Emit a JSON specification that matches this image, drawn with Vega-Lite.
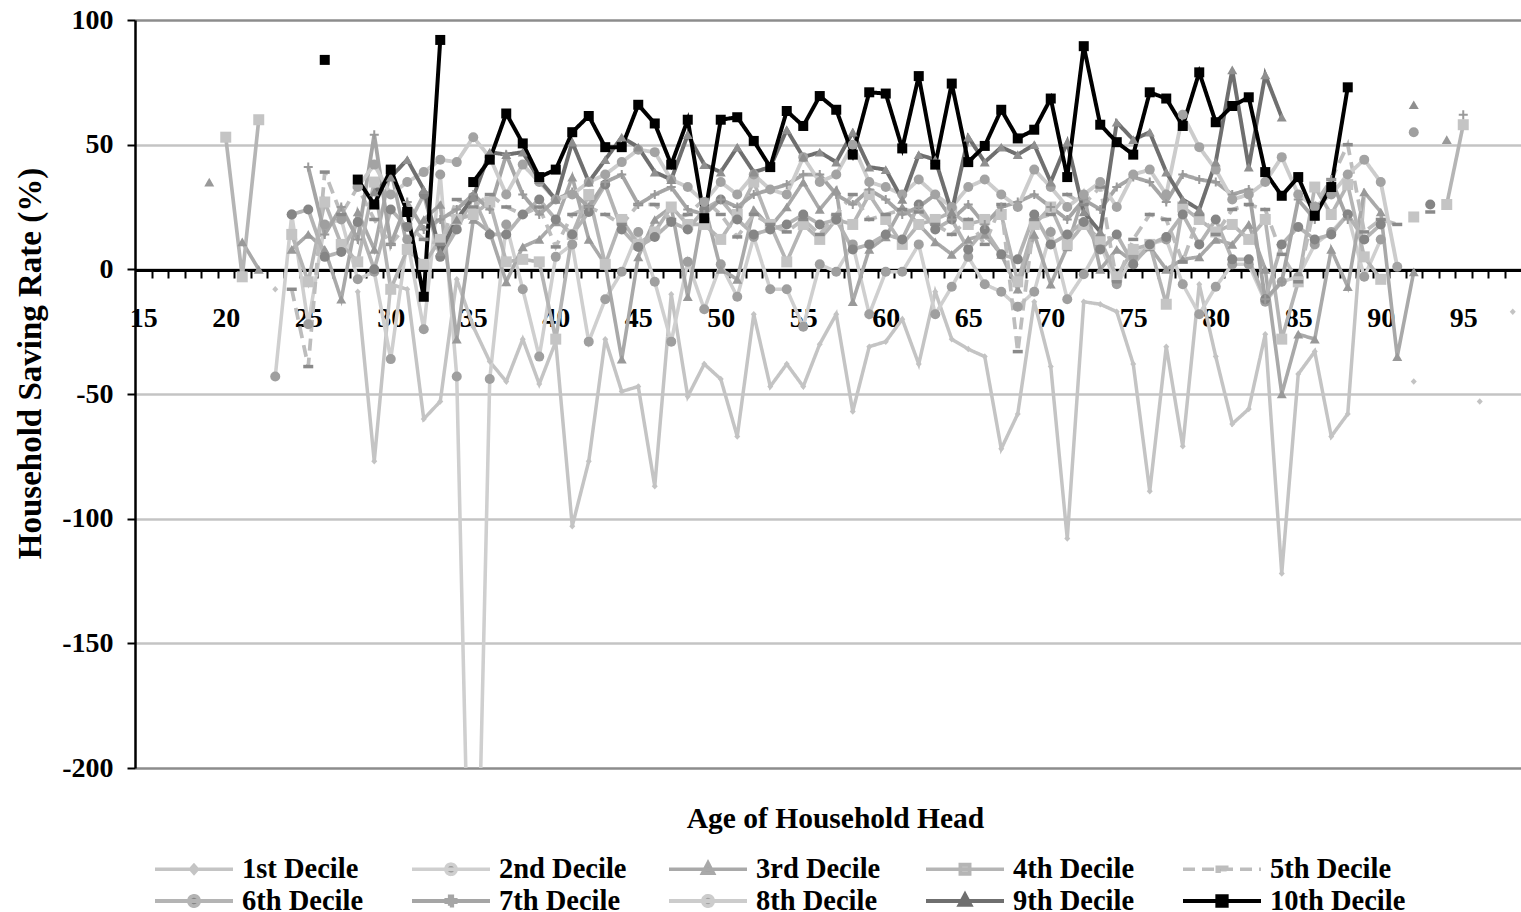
{
"$schema": "https://vega.github.io/schema/vega-lite/v6.json",
"width": 1386, "height": 748,
"autosize": {"type": "none"},
"padding": {"left": 135, "top": 20, "right": 0, "bottom": 144},
"background": "white",
"config": {"view": {"stroke": null}, "font": "Liberation Serif"},
"data": {"values": [
{"a":23,"d":"1st Decile","r":-8},{"a":24,"d":"1st Decile","r":null},{"a":28,"d":"1st Decile","r":-9},{"a":29,"d":"1st Decile","r":-77},{"a":30,"d":"1st Decile","r":-6},{"a":31,"d":"1st Decile","r":-8},{"a":32,"d":"1st Decile","r":-60},{"a":33,"d":"1st Decile","r":-53},{"a":34,"d":"1st Decile","r":-4},{"a":35,"d":"1st Decile","r":-23},{"a":36,"d":"1st Decile","r":-37},{"a":37,"d":"1st Decile","r":-45},{"a":38,"d":"1st Decile","r":-28},{"a":39,"d":"1st Decile","r":-46},{"a":40,"d":"1st Decile","r":-29},{"a":41,"d":"1st Decile","r":-103},{"a":42,"d":"1st Decile","r":-77},{"a":43,"d":"1st Decile","r":-28},{"a":44,"d":"1st Decile","r":-49},{"a":45,"d":"1st Decile","r":-47},{"a":46,"d":"1st Decile","r":-87},{"a":47,"d":"1st Decile","r":-10},{"a":48,"d":"1st Decile","r":-51},{"a":49,"d":"1st Decile","r":-38},{"a":50,"d":"1st Decile","r":-44},{"a":51,"d":"1st Decile","r":-67},{"a":52,"d":"1st Decile","r":-18},{"a":53,"d":"1st Decile","r":-47},{"a":54,"d":"1st Decile","r":-38},{"a":55,"d":"1st Decile","r":-47},{"a":56,"d":"1st Decile","r":-30},{"a":57,"d":"1st Decile","r":-18},{"a":58,"d":"1st Decile","r":-57},{"a":59,"d":"1st Decile","r":-31},{"a":60,"d":"1st Decile","r":-29},{"a":61,"d":"1st Decile","r":-20},{"a":62,"d":"1st Decile","r":-38},{"a":63,"d":"1st Decile","r":-9},{"a":64,"d":"1st Decile","r":-28},{"a":65,"d":"1st Decile","r":-32},{"a":66,"d":"1st Decile","r":-35},{"a":67,"d":"1st Decile","r":-72},{"a":68,"d":"1st Decile","r":-58},{"a":69,"d":"1st Decile","r":-13},{"a":70,"d":"1st Decile","r":-39},{"a":71,"d":"1st Decile","r":-108},{"a":72,"d":"1st Decile","r":-13},{"a":73,"d":"1st Decile","r":-14},{"a":74,"d":"1st Decile","r":-17},{"a":75,"d":"1st Decile","r":-38},{"a":76,"d":"1st Decile","r":-89},{"a":77,"d":"1st Decile","r":-31},{"a":78,"d":"1st Decile","r":-71},{"a":79,"d":"1st Decile","r":-6},{"a":80,"d":"1st Decile","r":-35},{"a":81,"d":"1st Decile","r":-62},{"a":82,"d":"1st Decile","r":-56},{"a":83,"d":"1st Decile","r":-26},{"a":84,"d":"1st Decile","r":-122},{"a":85,"d":"1st Decile","r":-42},{"a":86,"d":"1st Decile","r":-33},{"a":87,"d":"1st Decile","r":-67},{"a":88,"d":"1st Decile","r":-58},{"a":89,"d":"1st Decile","r":30},{"a":90,"d":"1st Decile","r":null},{"a":92,"d":"1st Decile","r":-45},{"a":93,"d":"1st Decile","r":null},{"a":96,"d":"1st Decile","r":-53},{"a":97,"d":"1st Decile","r":null},{"a":98,"d":"1st Decile","r":-17},

{"a":23,"d":"2nd Decile","r":-43},{"a":24,"d":"2nd Decile","r":22},{"a":25,"d":"2nd Decile","r":-22},{"a":26,"d":"2nd Decile","r":18},{"a":27,"d":"2nd Decile","r":20},{"a":28,"d":"2nd Decile","r":-4},{"a":29,"d":"2nd Decile","r":-1},{"a":30,"d":"2nd Decile","r":-36},{"a":31,"d":"2nd Decile","r":12},{"a":32,"d":"2nd Decile","r":-24},{"a":33,"d":"2nd Decile","r":38},{"a":34,"d":"2nd Decile","r":-43},{"a":35,"d":"2nd Decile","r":-330},{"a":36,"d":"2nd Decile","r":-44},{"a":37,"d":"2nd Decile","r":18},{"a":38,"d":"2nd Decile","r":-8},{"a":39,"d":"2nd Decile","r":-35},{"a":40,"d":"2nd Decile","r":5},{"a":41,"d":"2nd Decile","r":10},{"a":42,"d":"2nd Decile","r":-29},{"a":43,"d":"2nd Decile","r":-12},{"a":44,"d":"2nd Decile","r":-1},{"a":45,"d":"2nd Decile","r":15},{"a":46,"d":"2nd Decile","r":-5},{"a":47,"d":"2nd Decile","r":-29},{"a":48,"d":"2nd Decile","r":3},{"a":49,"d":"2nd Decile","r":-16},{"a":50,"d":"2nd Decile","r":2},{"a":51,"d":"2nd Decile","r":-11},{"a":52,"d":"2nd Decile","r":13},{"a":53,"d":"2nd Decile","r":-8},{"a":54,"d":"2nd Decile","r":-8},{"a":55,"d":"2nd Decile","r":-23},{"a":56,"d":"2nd Decile","r":2},{"a":57,"d":"2nd Decile","r":-1},{"a":58,"d":"2nd Decile","r":10},{"a":59,"d":"2nd Decile","r":-18},{"a":60,"d":"2nd Decile","r":-1},{"a":61,"d":"2nd Decile","r":-1},{"a":62,"d":"2nd Decile","r":10},{"a":63,"d":"2nd Decile","r":-18},{"a":64,"d":"2nd Decile","r":-7},{"a":65,"d":"2nd Decile","r":5},{"a":66,"d":"2nd Decile","r":-6},{"a":67,"d":"2nd Decile","r":-9},{"a":68,"d":"2nd Decile","r":-15},{"a":69,"d":"2nd Decile","r":-9},{"a":70,"d":"2nd Decile","r":15},{"a":71,"d":"2nd Decile","r":-12},{"a":72,"d":"2nd Decile","r":-2},{"a":73,"d":"2nd Decile","r":10},{"a":74,"d":"2nd Decile","r":-6},{"a":75,"d":"2nd Decile","r":5},{"a":76,"d":"2nd Decile","r":10},{"a":77,"d":"2nd Decile","r":12},{"a":78,"d":"2nd Decile","r":-6},{"a":79,"d":"2nd Decile","r":-18},{"a":80,"d":"2nd Decile","r":-7},{"a":81,"d":"2nd Decile","r":2},{"a":82,"d":"2nd Decile","r":2},{"a":83,"d":"2nd Decile","r":-13},{"a":84,"d":"2nd Decile","r":-5},{"a":85,"d":"2nd Decile","r":-3},{"a":86,"d":"2nd Decile","r":10},{"a":87,"d":"2nd Decile","r":15},{"a":88,"d":"2nd Decile","r":22},{"a":89,"d":"2nd Decile","r":-3},{"a":90,"d":"2nd Decile","r":12},{"a":91,"d":"2nd Decile","r":null},{"a":92,"d":"2nd Decile","r":55},

{"a":19,"d":"3rd Decile","r":35},{"a":20,"d":"3rd Decile","r":null},{"a":21,"d":"3rd Decile","r":11},{"a":22,"d":"3rd Decile","r":0},{"a":23,"d":"3rd Decile","r":null},{"a":24,"d":"3rd Decile","r":8},{"a":25,"d":"3rd Decile","r":14},{"a":26,"d":"3rd Decile","r":8},{"a":27,"d":"3rd Decile","r":-12},{"a":28,"d":"3rd Decile","r":23},{"a":29,"d":"3rd Decile","r":8},{"a":30,"d":"3rd Decile","r":40},{"a":31,"d":"3rd Decile","r":9},{"a":32,"d":"3rd Decile","r":20},{"a":33,"d":"3rd Decile","r":26},{"a":34,"d":"3rd Decile","r":-28},{"a":35,"d":"3rd Decile","r":20},{"a":36,"d":"3rd Decile","r":15},{"a":37,"d":"3rd Decile","r":-5},{"a":38,"d":"3rd Decile","r":9},{"a":39,"d":"3rd Decile","r":12},{"a":40,"d":"3rd Decile","r":19},{"a":41,"d":"3rd Decile","r":37},{"a":42,"d":"3rd Decile","r":12},{"a":43,"d":"3rd Decile","r":2},{"a":44,"d":"3rd Decile","r":-36},{"a":45,"d":"3rd Decile","r":5},{"a":46,"d":"3rd Decile","r":20},{"a":47,"d":"3rd Decile","r":25},{"a":48,"d":"3rd Decile","r":-11},{"a":49,"d":"3rd Decile","r":26},{"a":50,"d":"3rd Decile","r":0},{"a":51,"d":"3rd Decile","r":-4},{"a":52,"d":"3rd Decile","r":24},{"a":53,"d":"3rd Decile","r":17},{"a":54,"d":"3rd Decile","r":25},{"a":55,"d":"3rd Decile","r":35},{"a":56,"d":"3rd Decile","r":24},{"a":57,"d":"3rd Decile","r":32},{"a":58,"d":"3rd Decile","r":-13},{"a":59,"d":"3rd Decile","r":8},{"a":60,"d":"3rd Decile","r":13},{"a":61,"d":"3rd Decile","r":25},{"a":62,"d":"3rd Decile","r":18},{"a":63,"d":"3rd Decile","r":11},{"a":64,"d":"3rd Decile","r":6},{"a":65,"d":"3rd Decile","r":12},{"a":66,"d":"3rd Decile","r":14},{"a":67,"d":"3rd Decile","r":6},{"a":68,"d":"3rd Decile","r":-8},{"a":69,"d":"3rd Decile","r":14},{"a":70,"d":"3rd Decile","r":-6},{"a":71,"d":"3rd Decile","r":9},{"a":72,"d":"3rd Decile","r":30},{"a":73,"d":"3rd Decile","r":0},{"a":74,"d":"3rd Decile","r":8},{"a":75,"d":"3rd Decile","r":3},{"a":76,"d":"3rd Decile","r":9},{"a":77,"d":"3rd Decile","r":0},{"a":78,"d":"3rd Decile","r":4},{"a":79,"d":"3rd Decile","r":5},{"a":80,"d":"3rd Decile","r":12},{"a":81,"d":"3rd Decile","r":10},{"a":82,"d":"3rd Decile","r":18},{"a":83,"d":"3rd Decile","r":0},{"a":84,"d":"3rd Decile","r":-50},{"a":85,"d":"3rd Decile","r":-26},{"a":86,"d":"3rd Decile","r":-28},{"a":87,"d":"3rd Decile","r":8},{"a":88,"d":"3rd Decile","r":-7},{"a":89,"d":"3rd Decile","r":31},{"a":90,"d":"3rd Decile","r":23},{"a":91,"d":"3rd Decile","r":-35},{"a":92,"d":"3rd Decile","r":-1},{"a":93,"d":"3rd Decile","r":null},{"a":94,"d":"3rd Decile","r":52},

{"a":20,"d":"4th Decile","r":53},{"a":21,"d":"4th Decile","r":-3},{"a":22,"d":"4th Decile","r":60},{"a":23,"d":"4th Decile","r":null},{"a":24,"d":"4th Decile","r":14},{"a":25,"d":"4th Decile","r":-5},{"a":26,"d":"4th Decile","r":27},{"a":27,"d":"4th Decile","r":10},{"a":28,"d":"4th Decile","r":3},{"a":29,"d":"4th Decile","r":35},{"a":30,"d":"4th Decile","r":-8},{"a":31,"d":"4th Decile","r":8},{"a":32,"d":"4th Decile","r":2},{"a":33,"d":"4th Decile","r":12},{"a":34,"d":"4th Decile","r":20},{"a":35,"d":"4th Decile","r":22},{"a":36,"d":"4th Decile","r":27},{"a":37,"d":"4th Decile","r":3},{"a":38,"d":"4th Decile","r":4},{"a":39,"d":"4th Decile","r":3},{"a":40,"d":"4th Decile","r":-28},{"a":41,"d":"4th Decile","r":14},{"a":42,"d":"4th Decile","r":30},{"a":43,"d":"4th Decile","r":2},{"a":44,"d":"4th Decile","r":20},{"a":45,"d":"4th Decile","r":10},{"a":46,"d":"4th Decile","r":15},{"a":47,"d":"4th Decile","r":25},{"a":48,"d":"4th Decile","r":18},{"a":49,"d":"4th Decile","r":18},{"a":50,"d":"4th Decile","r":12},{"a":51,"d":"4th Decile","r":22},{"a":52,"d":"4th Decile","r":35},{"a":53,"d":"4th Decile","r":18},{"a":54,"d":"4th Decile","r":3},{"a":55,"d":"4th Decile","r":18},{"a":56,"d":"4th Decile","r":12},{"a":57,"d":"4th Decile","r":20},{"a":58,"d":"4th Decile","r":18},{"a":59,"d":"4th Decile","r":30},{"a":60,"d":"4th Decile","r":20},{"a":61,"d":"4th Decile","r":10},{"a":62,"d":"4th Decile","r":18},{"a":63,"d":"4th Decile","r":20},{"a":64,"d":"4th Decile","r":23},{"a":65,"d":"4th Decile","r":18},{"a":66,"d":"4th Decile","r":20},{"a":67,"d":"4th Decile","r":22},{"a":68,"d":"4th Decile","r":-5},{"a":69,"d":"4th Decile","r":18},{"a":70,"d":"4th Decile","r":25},{"a":71,"d":"4th Decile","r":10},{"a":72,"d":"4th Decile","r":18},{"a":73,"d":"4th Decile","r":12},{"a":74,"d":"4th Decile","r":-3},{"a":75,"d":"4th Decile","r":8},{"a":76,"d":"4th Decile","r":10},{"a":77,"d":"4th Decile","r":-14},{"a":78,"d":"4th Decile","r":25},{"a":79,"d":"4th Decile","r":20},{"a":80,"d":"4th Decile","r":15},{"a":81,"d":"4th Decile","r":18},{"a":82,"d":"4th Decile","r":12},{"a":83,"d":"4th Decile","r":20},{"a":84,"d":"4th Decile","r":-28},{"a":85,"d":"4th Decile","r":-5},{"a":86,"d":"4th Decile","r":33},{"a":87,"d":"4th Decile","r":22},{"a":88,"d":"4th Decile","r":34},{"a":89,"d":"4th Decile","r":5},{"a":90,"d":"4th Decile","r":-4},{"a":91,"d":"4th Decile","r":null},{"a":92,"d":"4th Decile","r":21},{"a":93,"d":"4th Decile","r":null},{"a":94,"d":"4th Decile","r":26},{"a":95,"d":"4th Decile","r":58},

{"a":24,"d":"5th Decile","r":-8},{"a":25,"d":"5th Decile","r":-39},{"a":26,"d":"5th Decile","r":39},{"a":27,"d":"5th Decile","r":22},{"a":28,"d":"5th Decile","r":33},{"a":29,"d":"5th Decile","r":20},{"a":30,"d":"5th Decile","r":10},{"a":31,"d":"5th Decile","r":18},{"a":32,"d":"5th Decile","r":12},{"a":33,"d":"5th Decile","r":10},{"a":34,"d":"5th Decile","r":28},{"a":35,"d":"5th Decile","r":25},{"a":36,"d":"5th Decile","r":30},{"a":37,"d":"5th Decile","r":25},{"a":38,"d":"5th Decile","r":22},{"a":39,"d":"5th Decile","r":25},{"a":40,"d":"5th Decile","r":9},{"a":41,"d":"5th Decile","r":22},{"a":42,"d":"5th Decile","r":25},{"a":43,"d":"5th Decile","r":22},{"a":44,"d":"5th Decile","r":18},{"a":45,"d":"5th Decile","r":26},{"a":46,"d":"5th Decile","r":26},{"a":47,"d":"5th Decile","r":20},{"a":48,"d":"5th Decile","r":22},{"a":49,"d":"5th Decile","r":28},{"a":50,"d":"5th Decile","r":22},{"a":51,"d":"5th Decile","r":13},{"a":52,"d":"5th Decile","r":22},{"a":53,"d":"5th Decile","r":18},{"a":54,"d":"5th Decile","r":15},{"a":55,"d":"5th Decile","r":20},{"a":56,"d":"5th Decile","r":14},{"a":57,"d":"5th Decile","r":22},{"a":58,"d":"5th Decile","r":30},{"a":59,"d":"5th Decile","r":20},{"a":60,"d":"5th Decile","r":22},{"a":61,"d":"5th Decile","r":24},{"a":62,"d":"5th Decile","r":23},{"a":63,"d":"5th Decile","r":18},{"a":64,"d":"5th Decile","r":14},{"a":65,"d":"5th Decile","r":20},{"a":66,"d":"5th Decile","r":10},{"a":67,"d":"5th Decile","r":26},{"a":68,"d":"5th Decile","r":-33},{"a":69,"d":"5th Decile","r":20},{"a":70,"d":"5th Decile","r":22},{"a":71,"d":"5th Decile","r":30},{"a":72,"d":"5th Decile","r":26},{"a":73,"d":"5th Decile","r":33},{"a":74,"d":"5th Decile","r":-5},{"a":75,"d":"5th Decile","r":12},{"a":76,"d":"5th Decile","r":22},{"a":77,"d":"5th Decile","r":20},{"a":78,"d":"5th Decile","r":3},{"a":79,"d":"5th Decile","r":22},{"a":80,"d":"5th Decile","r":14},{"a":81,"d":"5th Decile","r":24},{"a":82,"d":"5th Decile","r":26},{"a":83,"d":"5th Decile","r":24},{"a":84,"d":"5th Decile","r":6},{"a":85,"d":"5th Decile","r":-5},{"a":86,"d":"5th Decile","r":26},{"a":87,"d":"5th Decile","r":36},{"a":88,"d":"5th Decile","r":50},{"a":89,"d":"5th Decile","r":15},{"a":90,"d":"5th Decile","r":20},{"a":91,"d":"5th Decile","r":18},{"a":92,"d":"5th Decile","r":null},{"a":93,"d":"5th Decile","r":23},

{"a":24,"d":"6th Decile","r":22},{"a":25,"d":"6th Decile","r":24},{"a":26,"d":"6th Decile","r":5},{"a":27,"d":"6th Decile","r":7},{"a":28,"d":"6th Decile","r":19},{"a":29,"d":"6th Decile","r":0},{"a":30,"d":"6th Decile","r":24},{"a":31,"d":"6th Decile","r":17},{"a":32,"d":"6th Decile","r":30},{"a":33,"d":"6th Decile","r":5},{"a":34,"d":"6th Decile","r":16},{"a":35,"d":"6th Decile","r":29},{"a":36,"d":"6th Decile","r":14},{"a":37,"d":"6th Decile","r":14},{"a":38,"d":"6th Decile","r":22},{"a":39,"d":"6th Decile","r":28},{"a":40,"d":"6th Decile","r":20},{"a":41,"d":"6th Decile","r":14},{"a":42,"d":"6th Decile","r":23},{"a":43,"d":"6th Decile","r":34},{"a":44,"d":"6th Decile","r":16},{"a":45,"d":"6th Decile","r":9},{"a":46,"d":"6th Decile","r":13},{"a":47,"d":"6th Decile","r":19},{"a":48,"d":"6th Decile","r":16},{"a":49,"d":"6th Decile","r":24},{"a":50,"d":"6th Decile","r":28},{"a":51,"d":"6th Decile","r":20},{"a":52,"d":"6th Decile","r":14},{"a":53,"d":"6th Decile","r":16},{"a":54,"d":"6th Decile","r":18},{"a":55,"d":"6th Decile","r":22},{"a":56,"d":"6th Decile","r":18},{"a":57,"d":"6th Decile","r":20},{"a":58,"d":"6th Decile","r":8},{"a":59,"d":"6th Decile","r":10},{"a":60,"d":"6th Decile","r":14},{"a":61,"d":"6th Decile","r":12},{"a":62,"d":"6th Decile","r":26},{"a":63,"d":"6th Decile","r":16},{"a":64,"d":"6th Decile","r":20},{"a":65,"d":"6th Decile","r":8},{"a":66,"d":"6th Decile","r":16},{"a":67,"d":"6th Decile","r":6},{"a":68,"d":"6th Decile","r":4},{"a":69,"d":"6th Decile","r":22},{"a":70,"d":"6th Decile","r":10},{"a":71,"d":"6th Decile","r":14},{"a":72,"d":"6th Decile","r":19},{"a":73,"d":"6th Decile","r":8},{"a":74,"d":"6th Decile","r":14},{"a":75,"d":"6th Decile","r":2},{"a":76,"d":"6th Decile","r":10},{"a":77,"d":"6th Decile","r":13},{"a":78,"d":"6th Decile","r":22},{"a":79,"d":"6th Decile","r":10},{"a":80,"d":"6th Decile","r":20},{"a":81,"d":"6th Decile","r":4},{"a":82,"d":"6th Decile","r":4},{"a":83,"d":"6th Decile","r":-12},{"a":84,"d":"6th Decile","r":10},{"a":85,"d":"6th Decile","r":17},{"a":86,"d":"6th Decile","r":12},{"a":87,"d":"6th Decile","r":14},{"a":88,"d":"6th Decile","r":22},{"a":89,"d":"6th Decile","r":12},{"a":90,"d":"6th Decile","r":18},{"a":91,"d":"6th Decile","r":null},{"a":93,"d":"6th Decile","r":26},

{"a":25,"d":"7th Decile","r":41},{"a":26,"d":"7th Decile","r":14},{"a":27,"d":"7th Decile","r":25},{"a":28,"d":"7th Decile","r":12},{"a":29,"d":"7th Decile","r":54},{"a":30,"d":"7th Decile","r":10},{"a":31,"d":"7th Decile","r":27},{"a":32,"d":"7th Decile","r":16},{"a":33,"d":"7th Decile","r":20},{"a":34,"d":"7th Decile","r":24},{"a":35,"d":"7th Decile","r":30},{"a":36,"d":"7th Decile","r":24},{"a":37,"d":"7th Decile","r":46},{"a":38,"d":"7th Decile","r":30},{"a":39,"d":"7th Decile","r":22},{"a":40,"d":"7th Decile","r":28},{"a":41,"d":"7th Decile","r":31},{"a":42,"d":"7th Decile","r":25},{"a":43,"d":"7th Decile","r":35},{"a":44,"d":"7th Decile","r":38},{"a":45,"d":"7th Decile","r":26},{"a":46,"d":"7th Decile","r":30},{"a":47,"d":"7th Decile","r":33},{"a":48,"d":"7th Decile","r":24},{"a":49,"d":"7th Decile","r":22},{"a":50,"d":"7th Decile","r":28},{"a":51,"d":"7th Decile","r":25},{"a":52,"d":"7th Decile","r":30},{"a":53,"d":"7th Decile","r":32},{"a":54,"d":"7th Decile","r":34},{"a":55,"d":"7th Decile","r":38},{"a":56,"d":"7th Decile","r":38},{"a":57,"d":"7th Decile","r":30},{"a":58,"d":"7th Decile","r":26},{"a":59,"d":"7th Decile","r":32},{"a":60,"d":"7th Decile","r":28},{"a":61,"d":"7th Decile","r":22},{"a":62,"d":"7th Decile","r":25},{"a":63,"d":"7th Decile","r":30},{"a":64,"d":"7th Decile","r":20},{"a":65,"d":"7th Decile","r":26},{"a":66,"d":"7th Decile","r":18},{"a":67,"d":"7th Decile","r":25},{"a":68,"d":"7th Decile","r":27},{"a":69,"d":"7th Decile","r":30},{"a":70,"d":"7th Decile","r":25},{"a":71,"d":"7th Decile","r":20},{"a":72,"d":"7th Decile","r":28},{"a":73,"d":"7th Decile","r":24},{"a":74,"d":"7th Decile","r":33},{"a":75,"d":"7th Decile","r":37},{"a":76,"d":"7th Decile","r":35},{"a":77,"d":"7th Decile","r":27},{"a":78,"d":"7th Decile","r":38},{"a":79,"d":"7th Decile","r":36},{"a":80,"d":"7th Decile","r":35},{"a":81,"d":"7th Decile","r":30},{"a":82,"d":"7th Decile","r":32},{"a":83,"d":"7th Decile","r":-12},{"a":84,"d":"7th Decile","r":-5},{"a":85,"d":"7th Decile","r":28},{"a":86,"d":"7th Decile","r":20},{"a":87,"d":"7th Decile","r":36},{"a":88,"d":"7th Decile","r":20},{"a":89,"d":"7th Decile","r":null},{"a":95,"d":"7th Decile","r":62},

{"a":28,"d":"8th Decile","r":33},{"a":29,"d":"8th Decile","r":42},{"a":30,"d":"8th Decile","r":30},{"a":31,"d":"8th Decile","r":35},{"a":32,"d":"8th Decile","r":39},{"a":33,"d":"8th Decile","r":44},{"a":34,"d":"8th Decile","r":43},{"a":35,"d":"8th Decile","r":53},{"a":36,"d":"8th Decile","r":45},{"a":37,"d":"8th Decile","r":30},{"a":38,"d":"8th Decile","r":42},{"a":39,"d":"8th Decile","r":35},{"a":40,"d":"8th Decile","r":28},{"a":41,"d":"8th Decile","r":30},{"a":42,"d":"8th Decile","r":35},{"a":43,"d":"8th Decile","r":38},{"a":44,"d":"8th Decile","r":43},{"a":45,"d":"8th Decile","r":48},{"a":46,"d":"8th Decile","r":47},{"a":47,"d":"8th Decile","r":36},{"a":48,"d":"8th Decile","r":33},{"a":49,"d":"8th Decile","r":27},{"a":50,"d":"8th Decile","r":35},{"a":51,"d":"8th Decile","r":30},{"a":52,"d":"8th Decile","r":38},{"a":53,"d":"8th Decile","r":32},{"a":54,"d":"8th Decile","r":30},{"a":55,"d":"8th Decile","r":45},{"a":56,"d":"8th Decile","r":35},{"a":57,"d":"8th Decile","r":38},{"a":58,"d":"8th Decile","r":50},{"a":59,"d":"8th Decile","r":35},{"a":60,"d":"8th Decile","r":33},{"a":61,"d":"8th Decile","r":30},{"a":62,"d":"8th Decile","r":36},{"a":63,"d":"8th Decile","r":30},{"a":64,"d":"8th Decile","r":25},{"a":65,"d":"8th Decile","r":33},{"a":66,"d":"8th Decile","r":36},{"a":67,"d":"8th Decile","r":30},{"a":68,"d":"8th Decile","r":25},{"a":69,"d":"8th Decile","r":40},{"a":70,"d":"8th Decile","r":33},{"a":71,"d":"8th Decile","r":25},{"a":72,"d":"8th Decile","r":30},{"a":73,"d":"8th Decile","r":35},{"a":74,"d":"8th Decile","r":25},{"a":75,"d":"8th Decile","r":38},{"a":76,"d":"8th Decile","r":40},{"a":77,"d":"8th Decile","r":30},{"a":78,"d":"8th Decile","r":62},{"a":79,"d":"8th Decile","r":49},{"a":80,"d":"8th Decile","r":40},{"a":81,"d":"8th Decile","r":28},{"a":82,"d":"8th Decile","r":30},{"a":83,"d":"8th Decile","r":35},{"a":84,"d":"8th Decile","r":45},{"a":85,"d":"8th Decile","r":30},{"a":86,"d":"8th Decile","r":25},{"a":87,"d":"8th Decile","r":30},{"a":88,"d":"8th Decile","r":38},{"a":89,"d":"8th Decile","r":44},{"a":90,"d":"8th Decile","r":35},{"a":91,"d":"8th Decile","r":1},

{"a":29,"d":"9th Decile","r":31},{"a":30,"d":"9th Decile","r":37},{"a":31,"d":"9th Decile","r":44},{"a":32,"d":"9th Decile","r":32},{"a":33,"d":"9th Decile","r":7},{"a":34,"d":"9th Decile","r":20},{"a":35,"d":"9th Decile","r":29},{"a":36,"d":"9th Decile","r":47},{"a":37,"d":"9th Decile","r":46},{"a":38,"d":"9th Decile","r":47},{"a":39,"d":"9th Decile","r":36},{"a":40,"d":"9th Decile","r":28},{"a":41,"d":"9th Decile","r":51},{"a":42,"d":"9th Decile","r":35},{"a":43,"d":"9th Decile","r":44},{"a":44,"d":"9th Decile","r":53},{"a":45,"d":"9th Decile","r":49},{"a":46,"d":"9th Decile","r":39},{"a":47,"d":"9th Decile","r":36},{"a":48,"d":"9th Decile","r":54},{"a":49,"d":"9th Decile","r":42},{"a":50,"d":"9th Decile","r":39},{"a":51,"d":"9th Decile","r":49},{"a":52,"d":"9th Decile","r":39},{"a":53,"d":"9th Decile","r":41},{"a":54,"d":"9th Decile","r":56},{"a":55,"d":"9th Decile","r":45},{"a":56,"d":"9th Decile","r":47},{"a":57,"d":"9th Decile","r":43},{"a":58,"d":"9th Decile","r":55},{"a":59,"d":"9th Decile","r":41},{"a":60,"d":"9th Decile","r":40},{"a":61,"d":"9th Decile","r":28},{"a":62,"d":"9th Decile","r":46},{"a":63,"d":"9th Decile","r":44},{"a":64,"d":"9th Decile","r":23},{"a":65,"d":"9th Decile","r":53},{"a":66,"d":"9th Decile","r":43},{"a":67,"d":"9th Decile","r":49},{"a":68,"d":"9th Decile","r":46},{"a":69,"d":"9th Decile","r":50},{"a":70,"d":"9th Decile","r":35},{"a":71,"d":"9th Decile","r":51},{"a":72,"d":"9th Decile","r":23},{"a":73,"d":"9th Decile","r":15},{"a":74,"d":"9th Decile","r":59},{"a":75,"d":"9th Decile","r":52},{"a":76,"d":"9th Decile","r":55},{"a":77,"d":"9th Decile","r":39},{"a":78,"d":"9th Decile","r":28},{"a":79,"d":"9th Decile","r":24},{"a":80,"d":"9th Decile","r":43},{"a":81,"d":"9th Decile","r":80},{"a":82,"d":"9th Decile","r":41},{"a":83,"d":"9th Decile","r":78},{"a":84,"d":"9th Decile","r":61},{"a":85,"d":"9th Decile","r":null},{"a":92,"d":"9th Decile","r":66},

{"a":26,"d":"10th Decile","r":84},{"a":27,"d":"10th Decile","r":null},{"a":28,"d":"10th Decile","r":36},{"a":29,"d":"10th Decile","r":26},{"a":30,"d":"10th Decile","r":40},{"a":31,"d":"10th Decile","r":23},{"a":32,"d":"10th Decile","r":-11},{"a":33,"d":"10th Decile","r":92},{"a":34,"d":"10th Decile","r":null},{"a":35,"d":"10th Decile","r":35},{"a":36,"d":"10th Decile","r":44},{"a":37,"d":"10th Decile","r":62.5},{"a":38,"d":"10th Decile","r":50.5},{"a":39,"d":"10th Decile","r":37},{"a":40,"d":"10th Decile","r":40},{"a":41,"d":"10th Decile","r":55},{"a":42,"d":"10th Decile","r":61.5},{"a":43,"d":"10th Decile","r":49},{"a":44,"d":"10th Decile","r":49},{"a":45,"d":"10th Decile","r":66},{"a":46,"d":"10th Decile","r":58.5},{"a":47,"d":"10th Decile","r":42},{"a":48,"d":"10th Decile","r":60},{"a":49,"d":"10th Decile","r":20.5},{"a":50,"d":"10th Decile","r":60},{"a":51,"d":"10th Decile","r":61},{"a":52,"d":"10th Decile","r":51.5},{"a":53,"d":"10th Decile","r":41},{"a":54,"d":"10th Decile","r":63.5},{"a":55,"d":"10th Decile","r":57.5},{"a":56,"d":"10th Decile","r":69.5},{"a":57,"d":"10th Decile","r":64},{"a":58,"d":"10th Decile","r":46},{"a":59,"d":"10th Decile","r":71},{"a":60,"d":"10th Decile","r":70.5},{"a":61,"d":"10th Decile","r":48.5},{"a":62,"d":"10th Decile","r":77.5},{"a":63,"d":"10th Decile","r":42},{"a":64,"d":"10th Decile","r":74.5},{"a":65,"d":"10th Decile","r":43},{"a":66,"d":"10th Decile","r":49.5},{"a":67,"d":"10th Decile","r":64},{"a":68,"d":"10th Decile","r":52.5},{"a":69,"d":"10th Decile","r":56},{"a":70,"d":"10th Decile","r":68.5},{"a":71,"d":"10th Decile","r":37},{"a":72,"d":"10th Decile","r":89.5},{"a":73,"d":"10th Decile","r":58},{"a":74,"d":"10th Decile","r":51},{"a":75,"d":"10th Decile","r":46},{"a":76,"d":"10th Decile","r":71},{"a":77,"d":"10th Decile","r":68.5},{"a":78,"d":"10th Decile","r":57.5},{"a":79,"d":"10th Decile","r":79},{"a":80,"d":"10th Decile","r":59},{"a":81,"d":"10th Decile","r":65.5},{"a":82,"d":"10th Decile","r":69},{"a":83,"d":"10th Decile","r":39},{"a":84,"d":"10th Decile","r":29.5},{"a":85,"d":"10th Decile","r":37},{"a":86,"d":"10th Decile","r":21.5},{"a":87,"d":"10th Decile","r":33},{"a":88,"d":"10th Decile","r":73}
]},
"encoding": {
  "x": {"field": "a", "type": "quantitative",
    "scale": {"domain": [14.5, 98.5], "nice": false, "zero": false},
    "axis": {
      "title": "Age of Household Head", "orient": "bottom", "offset": -498,
      "values": [15,20,25,30,35,40,45,50,55,60,65,70,75,80,85,90,95,15.5,16.5,17.5,18.5,19.5,20.5,21.5,22.5,23.5,24.5,25.5,26.5,27.5,28.5,29.5,30.5,31.5,32.5,33.5,34.5,35.5,36.5,37.5,38.5,39.5,40.5,41.5,42.5,43.5,44.5,45.5,46.5,47.5,48.5,49.5,50.5,51.5,52.5,53.5,54.5,55.5,56.5,57.5,58.5,59.5,60.5,61.5,62.5,63.5,64.5,65.5,66.5,67.5,68.5,69.5,70.5,71.5,72.5,73.5,74.5,75.5,76.5,77.5,78.5,79.5,80.5,81.5,82.5,83.5,84.5,85.5,86.5,87.5,88.5,89.5,90.5,91.5,92.5,93.5,94.5,95.5,96.5,97.5],
      "grid": false,
      "domainColor": "black", "domainWidth": 3,
      "tickColor": "black", "tickWidth": 2, "tickSize": 8,
      "tickOpacity": {"condition": {"test": "datum.value % 1 != 0", "value": 1}, "value": 0},
      "labelExpr": "datum.value % 5 == 0 ? '' + datum.value : ''",
      "labelOverlap": false, "labelFlush": false,
      "labelFont": "Liberation Serif", "labelFontSize": 28, "labelFontWeight": "bold", "labelColor": "black",
      "labelPadding": 26,
      "titleFont": "Liberation Serif", "titleFontSize": 29.5, "titleFontWeight": "bold", "titleColor": "black",
      "titleY": 548, "titleX": 700, "titleBaseline": "middle", "titleAlign": "center"
    }},
  "y": {"field": "r", "type": "quantitative",
    "scale": {"domain": [-200, 100], "nice": false, "zero": false},
    "axis": {
      "title": "Household Saving Rate (%)",
      "values": [-200,-150,-100,-50,0,50,100],
      "grid": true,
      "gridColor": {"condition": {"test": "datum.value == 100 || datum.value == -200", "value": "#8c8c8c"}, "value": "#c4c4c4"},
      "gridWidth": 2.5,
      "domainColor": "black", "domainWidth": 2.5,
      "tickColor": "black", "tickWidth": 2, "tickSize": 8,
      "labelExpr": "'' + datum.value",
      "labelFont": "Liberation Serif", "labelFontSize": 28, "labelFontWeight": "bold", "labelColor": "black",
      "labelPadding": 14,
      "titleFont": "Liberation Serif", "titleFontSize": 33, "titleFontWeight": "bold", "titleColor": "black",
      "titleX": -105, "titleY": 343, "titleAngle": -90, "titleAlign": "center", "titleBaseline": "middle"
    }}
},
"layer": [
  {"mark": {"type": "line", "clip": true, "invalid": "break-paths-show-domains"},
   "encoding": {
     "stroke": {"field": "d", "type": "nominal",
       "scale": {"domain": ["1st Decile","2nd Decile","3rd Decile","4th Decile","5th Decile","6th Decile","7th Decile","8th Decile","9th Decile","10th Decile"],
                 "range": ["#c4c4c4","#cfcfcf","#a9a9a9","#b5b5b5","#bdbdbd","#b4b4b4","#a5a5a5","#cccccc","#6f6f6f","#000000"]},
       "legend": {"title": null, "orient": "none", "legendX": 18, "legendY": 832, "direction": "horizontal", "columns": 5,
                  "symbolType": "stroke", "symbolSize": 900, "symbolStrokeWidth": 4,
                  "labelFont": "Liberation Serif", "labelFontSize": 28.5, "labelFontWeight": "bold", "labelColor": "black",
                  "labelOffset": 55, "columnPadding": 26, "rowPadding": -3, "gridAlign": "all", "labelLimit": 300,
                  "encode": {"symbols": {"update": {
                    "shape": {"signal": "datum.value === '1st Decile' ? 'M-1,0H4.2M1.6,-0.26L1.83,0L1.6,0.26L1.37,0Z' : (datum.value === '2nd Decile' || datum.value === '6th Decile' || datum.value === '8th Decile') ? 'M-1,0H4.2M1.26,0A0.34,0.34 0 1,0 1.94,0A0.34,0.34 0 1,0 1.26,0Z' : (datum.value === '3rd Decile' || datum.value === '9th Decile') ? 'M-1,0H4.2M1.6,-0.42L1.96,0.26L1.24,0.26Z' : (datum.value === '4th Decile' || datum.value === '10th Decile') ? 'M-1,0H4.2M1.29,-0.31H1.91V0.31H1.29Z' : datum.value === '5th Decile' ? 'M-1,0H4.2M1.29,-0.13H1.91V0.13H1.29Z' : 'M-1,0H4.2M1.52,-0.31H1.68V-0.08H1.91V0.08H1.68V0.31H1.52V0.08H1.29V-0.08H1.52Z'"},
                    "fill": {"signal": "datum.value === '1st Decile' ? '#c3c3c3' : datum.value === '2nd Decile' ? '#9f9f9f' : datum.value === '3rd Decile' ? '#999999' : datum.value === '4th Decile' ? '#c4c4c4' : datum.value === '5th Decile' ? '#8a8a8a' : datum.value === '6th Decile' ? '#858585' : datum.value === '7th Decile' ? '#9a9a9a' : datum.value === '8th Decile' ? '#a3a3a3' : datum.value === '9th Decile' ? '#8f8f8f' : '#000000'"},
                    "size": {"value": 900}
                  }}}}},
     "strokeDash": {"field": "d", "type": "nominal",
       "scale": {"domain": ["1st Decile","2nd Decile","3rd Decile","4th Decile","5th Decile","6th Decile","7th Decile","8th Decile","9th Decile","10th Decile"],
                 "range": [[1,0],[1,0],[1,0],[1,0],[12,7],[1,0],[1,0],[1,0],[1,0],[1,0]]},
       "legend": null},
     "strokeWidth": {"field": "d", "type": "ordinal",
       "scale": {"domain": ["1st Decile","2nd Decile","3rd Decile","4th Decile","5th Decile","6th Decile","7th Decile","8th Decile","9th Decile","10th Decile"],
                 "range": [3.5,4,3.5,3.5,3.5,2.5,3,6,3.5,4]},
       "legend": null}
   }},
  {"mark": {"type": "point", "filled": true, "opacity": 1, "clip": true, "size": 100},
   "encoding": {
     "shape": {"field": "d", "type": "nominal",
       "scale": {"domain": ["10th Decile","9th Decile","8th Decile","7th Decile","6th Decile","5th Decile","4th Decile","3rd Decile","2nd Decile","1st Decile"],
                 "range": ["M-1,-1H1V1H-1Z","triangle-up","circle","M-0.2,-0.9H0.2V-0.2H0.9V0.2H0.2V0.9H-0.2V0.2H-0.9V-0.2H-0.2Z","circle","M-1,-0.35H1V0.35H-1Z","M-1.1,-1.1H1.1V1.1H-1.1Z","triangle-up","circle","M0,-0.65L0.6,0L0,0.65L-0.6,0Z"]},
       "legend": null},
     "fill": {"field": "d", "type": "nominal",
       "scale": {"domain": ["10th Decile","9th Decile","8th Decile","7th Decile","6th Decile","5th Decile","4th Decile","3rd Decile","2nd Decile","1st Decile"],
                 "range": ["#000000","#8f8f8f","#a3a3a3","#9a9a9a","#858585","#8a8a8a","#c4c4c4","#999999","#9f9f9f","#c3c3c3"]},
       "legend": null}
   }}
]
}
